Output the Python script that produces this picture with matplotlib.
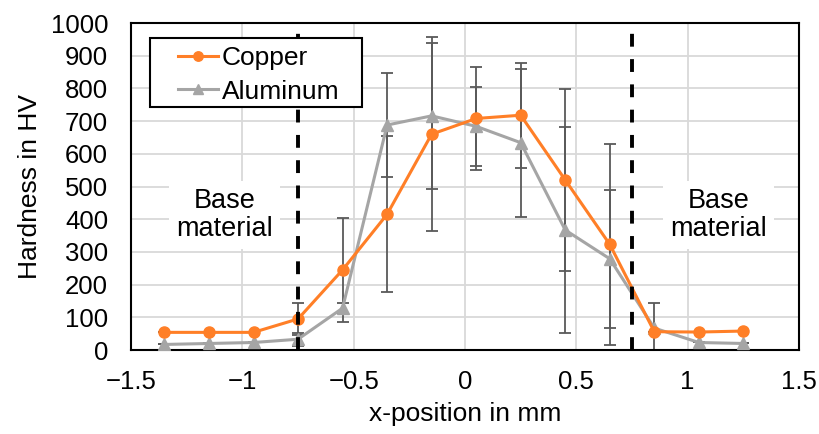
import matplotlib
matplotlib.use("Agg")
import matplotlib.pyplot as plt
from matplotlib.patches import Rectangle

plt.rcParams['font.family'] = ['Liberation Sans', 'DejaVu Sans']

x_pos = [-1.35, -1.15, -0.95, -0.75, -0.55, -0.35, -0.15, 0.05, 0.25, 0.45, 0.65, 0.85, 1.05, 1.25]
copper = [54, 54, 54, 95, 245, 415, 660, 708, 718, 520, 323, 56, 55, 58]
copper_err = [0, 0, 0, 50, 160, 238, 296, 156, 160, 278, 308, 0, 0, 0]
aluminum = [17, 20, 23, 33, 128, 688, 716, 684, 634, 367, 279, 67, 23, 20]
aluminum_err = [0, 0, 0, 20, 15, 160, 224, 121, 226, 314, 211, 78, 0, 0]
boundaries = [-0.75, 0.75]
x_ticks = [-1.5, -1, -0.5, 0, 0.5, 1, 1.5]
x_tick_labels = ['\u22121.5', '\u22121', '\u22120.5', '0', '0.5', '1', '1.5']
y_ticks = list(range(0, 1001, 100))

fig = plt.figure(figsize=(8.19, 4.34), dpi=100)
ax = fig.add_axes([0.160, 0.1935, 0.8156, 0.7535])

orange = '#FF7F27'
gray = '#A5A5A5'
errc = '#595959'

# error bars (not in legend)
ax.errorbar(x_pos, copper, yerr=copper_err, fmt='none', ecolor=errc,
            elinewidth=1.3, capsize=4, capthick=1.3, zorder=2)
ax.errorbar(x_pos, aluminum, yerr=aluminum_err, fmt='none', ecolor=errc,
            elinewidth=1.3, capsize=4, capthick=1.3, zorder=2)

ax.plot(x_pos, aluminum, color=gray, marker='^', markersize=8, linewidth=2.2,
        label='Aluminum', zorder=3)
ax.plot(x_pos, copper, color=orange, marker='o', markersize=8, linewidth=2.2,
        label='Copper', zorder=3)

for b in boundaries:
    ax.axvline(b, color='black', linestyle=(0, (3.3, 3.2)), linewidth=2.8, zorder=4)

ax.set_xlim(-1.5, 1.5)
ax.set_ylim(0, 1000)
ax.set_xticks(x_ticks)
ax.set_xticklabels(x_tick_labels)
ax.set_yticks(y_ticks)
ax.grid(True, color='#D9D9D9', linewidth=1.3, zorder=0)
ax.set_axisbelow(True)
ax.tick_params(axis='both', length=0, labelsize=18.5)
ax.tick_params(axis='x', pad=14.5)
ax.tick_params(axis='y', pad=16.5)
for s in ax.spines.values():
    s.set_linewidth(1.5)
    s.set_color('black')

ax.set_xlabel('x-position in mm', fontsize=19, labelpad=6)
ax.set_ylabel('Hardness in HV', fontsize=19, labelpad=6)

bbox = dict(facecolor='white', edgecolor='none', pad=5)
ax.text(-1.08, 413, 'Base\nmaterial', ha='center', va='center', fontsize=19.5,
        linespacing=1.1, bbox=bbox, zorder=5)
ax.text(1.14, 413, 'Base\nmaterial', ha='center', va='center', fontsize=19.5,
        linespacing=1.1, bbox=bbox, zorder=5)

# legend frame drawn as a rectangle (axes fraction)
frame = Rectangle((0.0284, 0.743), 0.3174, 0.211, transform=ax.transAxes,
                  facecolor='white', edgecolor='black', linewidth=1.5, zorder=6)
ax.add_patch(frame)

handles, labels = ax.get_legend_handles_labels()
order = [1, 0]
leg = ax.legend([handles[i] for i in order], [labels[i] for i in order],
                loc='upper left', bbox_to_anchor=(0.0704, 0.93), fontsize=19,
                frameon=False, handlelength=1.5, handletextpad=0.15,
                borderpad=0, labelspacing=0.37, borderaxespad=0, markerscale=0.85)
leg.set_zorder(7)

fig.savefig('out.png', dpi=100)
